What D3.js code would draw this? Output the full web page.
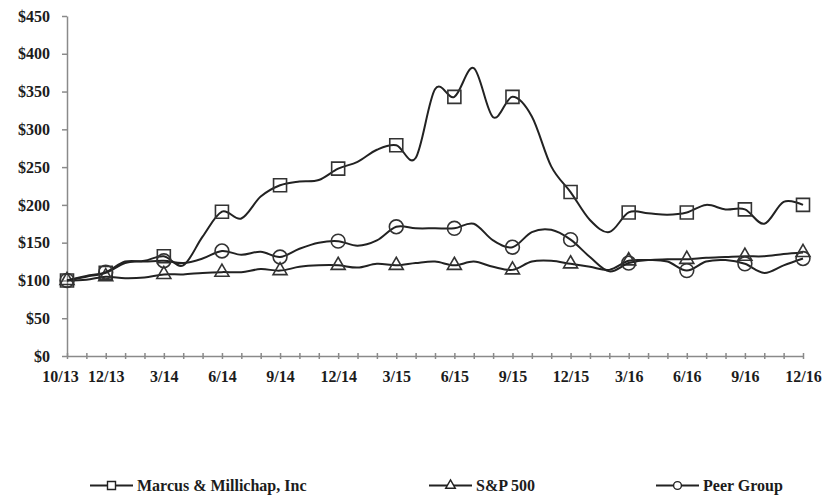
<!DOCTYPE html>
<html>
<head>
<meta charset="utf-8">
<script src="https://cdn.jsdelivr.net/npm/d3@7"></script>
<style>
body { margin: 0; background: #fff; }
text { font-family: "Liberation Serif", "Times New Roman", serif; font-weight: bold; fill: #1c1c1c; }
</style>
</head>
<body>
<div id="chart"></div>
<script>
// monthly points, markers only on the labelled quarters
var months = ["10/13","11/13","12/13","1/14","2/14","3/14","4/14","5/14","6/14","7/14","8/14","9/14",
    "10/14","11/14","12/14","1/15","2/15","3/15","4/15","5/15","6/15","7/15","8/15","9/15",
    "10/15","11/15","12/15","1/16","2/16","3/16","4/16","5/16","6/16","7/16","8/16","9/16",
    "10/16","11/16","12/16"];
var tickLabels = ["10/13","12/13","3/14","6/14","9/14","12/14","3/15","6/15","9/15","12/15","3/16","6/16","9/16","12/16"];
var yTicks = [0, 50, 100, 150, 200, 250, 300, 350, 400, 450];

var marcus = [100, 105, 110, 123, 126, 132, 120, 158, 191, 182, 211, 226, 231, 233, 248, 257, 273, 279, 262,
    353, 343, 381, 316, 343, 317, 251, 217, 180, 164, 190, 189, 187, 190, 200, 194, 194, 175, 204, 200];
var sp500 = [100, 101, 105, 103, 104, 108, 108, 110, 111, 111, 115, 113, 118, 120, 120, 117, 122, 120, 123,
    125, 120, 125, 118, 114, 125, 126, 122, 118, 114, 126, 127, 128, 128, 130, 131, 132, 132, 135, 137];
var peer = [100, 106, 111, 125, 125, 126, 123, 129, 139, 134, 138, 131, 142, 150, 152, 146, 153, 171, 169,
    169, 169, 175, 153, 144, 164, 167, 154, 131, 112, 123, 127, 125, 113, 125, 127, 122, 110, 120, 129];

var seriesNames = ["Marcus & Millichap, Inc", "S&P 500", "Peer Group"];

var width = 825, height = 497;

var svg = d3.select("#chart")
    .append("svg")
    .attr("width", width)
    .attr("height", height);

var xScale = d3.scalePoint()
    .domain(months)
    .range([67, 803]);

var yScale = d3.scaleLinear()
    .domain([0, 450])
    .range([356, 16]);

// y axis
var yAxis = svg.append("g")
    .attr("transform", "translate(67,0)")
    .call(d3.axisLeft(yScale).tickValues(yTicks).tickSize(5).tickSizeOuter(0).tickPadding(12)
        .tickFormat(function(d) { return "$" + d; }));
yAxis.select(".domain").attr("stroke", "#8a8a8a").attr("stroke-width", 1.5);
yAxis.selectAll(".tick line").attr("stroke", "#8a8a8a").attr("stroke-width", 1.5);
yAxis.selectAll("text").style("font-size", "16px").style("font-family", "Liberation Serif").attr("fill", "#1c1c1c");

// x axis, cross ticks every month
var xAxis = svg.append("g")
    .attr("transform", "translate(0,356)")
    .call(d3.axisBottom(xScale).tickSize(3).tickSizeOuter(0)
        .tickFormat(function(d) { return tickLabels.indexOf(d) >= 0 ? d : ""; }));
xAxis.select(".domain").attr("stroke", "#8a8a8a").attr("stroke-width", 1.5);
xAxis.selectAll(".tick line").attr("stroke", "#8a8a8a").attr("stroke-width", 1.5).attr("y1", -3).attr("y2", 3);
xAxis.selectAll("text")
    .attr("y", 15)
    .attr("dx", function(d, i) { return i === 0 ? -7 : 0; })
    .style("font-size", "16px").style("font-family", "Liberation Serif").attr("fill", "#1c1c1c");

var line = d3.line()
    .x(function(d, i) { return xScale(months[i]); })
    .y(function(d) { return yScale(d); })
    .curve(d3.curveCardinal.tension(0));

var symbols = [d3.symbolSquare, d3.symbolTriangle, d3.symbolCircle];
var plotSizes = [169, 85, 150];
var legendSizes = [64, 40, 48];
var allSeries = [marcus, sp500, peer];

allSeries.forEach(function(data, s) {
    svg.append("path")
        .datum(data)
        .attr("fill", "none")
        .attr("stroke", "#222")
        .attr("stroke-width", 2)
        .attr("d", line);

    var marks = data.map(function(v, i) { return {m: months[i], v: v}; })
        .filter(function(d) { return tickLabels.indexOf(d.m) >= 0; });

    svg.selectAll(".mk" + s)
        .data(marks)
        .enter()
        .append("path")
        .attr("class", "mk" + s)
        .attr("transform", function(d) { return "translate(" + xScale(d.m) + "," + yScale(d.v) + ")"; })
        .attr("d", d3.symbol().type(symbols[s]).size(plotSizes[s]))
        .attr("fill", "none")
        .attr("stroke", "#333")
        .attr("stroke-width", 1.6);
});

// legend
var legendX = [90, 429, 656];
var legend = svg.append("g").attr("transform", "translate(0,485.5)");
seriesNames.forEach(function(name, s) {
    var g = legend.append("g").attr("transform", "translate(" + legendX[s] + ",0)");
    g.append("line")
        .attr("x1", 0).attr("x2", 43)
        .attr("stroke", "#222").attr("stroke-width", 2);
    g.append("path")
        .attr("transform", "translate(21.5,0)")
        .attr("d", d3.symbol().type(symbols[s]).size(legendSizes[s]))
        .attr("fill", "#fff")
        .attr("stroke", "#222")
        .attr("stroke-width", 1.4);
    g.append("text")
        .attr("x", 47)
        .attr("dy", "0.35em")
        .style("font-size", "16px")
        .text(name);
});
</script>
</body>
</html>
